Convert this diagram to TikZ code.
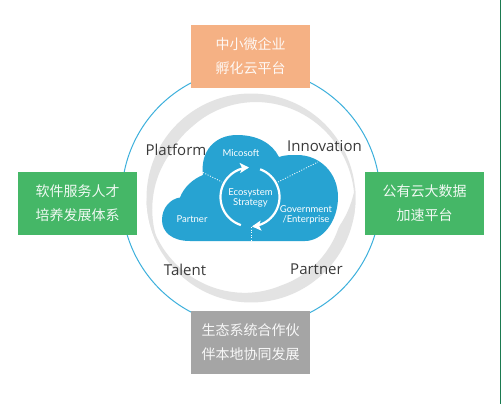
\documentclass[tikz,border=0pt]{standalone}
\usepackage{fontspec}
\setmainfont{Open Sans}
\newfontfamily\cjk{Noto Sans CJK SC}
\newfontfamily\cloudfont{Lato}
\usetikzlibrary{arrows.meta}
\definecolor{cloudblue}{HTML}{27A3D2}
\definecolor{ringblue}{HTML}{3DB0DC}
\definecolor{ringgray}{HTML}{E3E3E3}
\definecolor{boxorange}{HTML}{F5B184}
\definecolor{boxgreen}{HTML}{45B767}
\definecolor{boxgray}{HTML}{A5A5A5}
\definecolor{edgegreen}{HTML}{1B7A50}
\definecolor{labelink}{HTML}{3A3A3A}
\tikzset{
  cnbox/.style={draw=none,minimum width=119pt,minimum height=63pt,inner sep=0pt,
    text=white,font=\cjk\fontsize{14}{24}\selectfont,align=center,text opacity=.92},
  outerlabel/.style={text=labelink,font=\fontsize{15}{17}\selectfont,inner sep=0pt},
  cloudlabel/.style={text=white,font=\cloudfont\fontsize{9.5}{11.5}\selectfont,inner sep=0pt,align=center},
  dotline/.style={white,line width=.8pt,dash pattern=on 1pt off 1.6pt},
  cyclearrow/.style={white,line width=2.2pt,-{Stealth[length=9pt,width=10pt,inset=2pt]}},
}
\begin{document}
\begin{tikzpicture}[x=1pt,y=-1pt]
\useasboundingbox (0,0) rectangle (501,404);
\fill[white] (0,0) rectangle (501,404);
\draw[edgegreen,line width=1pt] (500.5,0) -- (500.5,404);
% blue circle
\draw[ringblue,line width=1pt] (251,197.5) circle[radius=129.3];
% gray ring: two crescents
\fill[ringgray]
  plot[domain=-12:212,samples=90,smooth] ({251+104.5*cos(\x)},{198-104.5*sin(\x)})
  -- plot[domain=212:-12,samples=90,smooth] ({251+(104.5-min(12,min((\x+12)*.085,(212-\x)*.2)))*cos(\x)},{198-(104.5-min(12,min((\x+12)*.085,(212-\x)*.2)))*sin(\x)})
  -- cycle;
\fill[ringgray]
  plot[domain=180:366,samples=90,smooth] ({251+104.5*cos(\x)},{198-104.5*sin(\x)})
  -- plot[domain=366:180,samples=90,smooth] ({251+(104.5-min(12,min((\x-180)*.11,(366-\x)*.5)))*cos(\x)},{198-(104.5-min(12,min((\x-180)*.11,(366-\x)*.5)))*sin(\x)})
  -- cycle;
% boxes
\node[cnbox,fill=boxorange] (top) at (250.5,56.5) {中小微企业\\孵化云平台};
\node[cnbox,fill=boxgreen] (left) at (77.5,203) {软件服务人才\\培养发展体系};
\node[cnbox,fill=boxgreen] (right) at (424.5,203) {公有云大数据\\加速平台};
\node[cnbox,fill=boxgray] (bottom) at (250.5,342.5) {生态系统合作伙\\伴本地协同发展};
% cloud
\fill[cloudblue] (190,241)
  .. controls (172,241) and (162,232) .. (162,220)
  .. controls (162,208) and (170,199) .. (180,197.5)
  .. controls (184,187) and (193,179) .. (203,175)
  .. controls (200,151) and (215,135) .. (237,135)
  .. controls (257,135) and (272,143) .. (279,157)
  .. controls (284,155) and (291,155) .. (297,155)
  .. controls (320,155) and (338,173) .. (338,197)
  .. controls (338,222) and (322,241) .. (305,241)
  -- cycle;
% dotted connectors
\coordinate (d1a) at (203,172.5); \coordinate (d1b) at (222,182);
\coordinate (d2a) at (278,182);   \coordinate (d2b) at (318,162);
\coordinate (d3a) at (251.5,227); \coordinate (d3b) at (251.5,241);
\draw[dotline] (d1a) -- (d1b);
\draw[dotline] (d2a) -- (d2b);
\draw[dotline] (d3a) -- (d3b);
% cycle arrows
\draw[cyclearrow] plot[domain=252:92,samples=40,smooth] ({250+29.5*cos(\x)},{197-29.5*sin(\x)});
\draw[cyclearrow] plot[domain=70:-86,samples=40,smooth] ({250+29.5*cos(\x)},{197-29.5*sin(\x)});
\node[cloudlabel] (eco) at (250.5,198) {Ecosystem\\[-1pt]Strategy};
\node[cloudlabel] (ms) at (241,153.5) {Micosoft};
\node[cloudlabel] (pa) at (192,219) {Partner};
\node[cloudlabel] (gov) at (306,215) {Government\\[-1pt]/Enterprise};
% outer labels
\node[outerlabel] (platform) at (176,149.5) {Platform};
\node[outerlabel] (innovation) at (324.5,146) {Innovation};
\node[outerlabel] (talent) at (185,269.5) {Talent};
\node[outerlabel] (partner) at (316.5,269.5) {Partner};
\end{tikzpicture}
\end{document}
